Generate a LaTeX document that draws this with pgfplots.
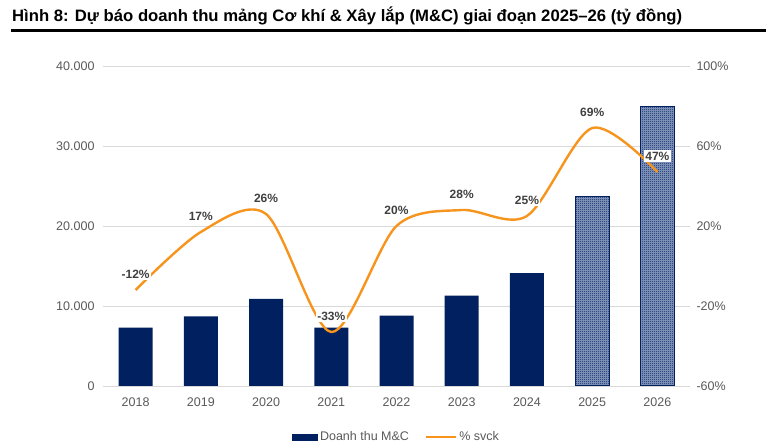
\documentclass[border=0pt]{standalone}
\usepackage{pgfplots}
\pgfplotsset{compat=1.18}
\usepackage{fontspec}
\setmainfont{Liberation Sans}
\usetikzlibrary{patterns}
\definecolor{navy}{HTML}{002060}
\definecolor{lineor}{HTML}{F7941D}
\definecolor{gridc}{HTML}{D9D9D9}
\definecolor{tickc}{HTML}{595959}
\definecolor{lblc}{HTML}{404040}
\definecolor{checkbg}{HTML}{8C9EC2}
% small checkerboard, like the Excel fill of the forecast bars
\pgfdeclarepatternformonly{smallcheck}{\pgfpointorigin}{\pgfqpoint{2pt}{2pt}}{\pgfqpoint{2pt}{2pt}}{%
  \pgfpathrectangle{\pgfpointorigin}{\pgfqpoint{1pt}{1pt}}%
  \pgfpathrectangle{\pgfqpoint{1pt}{1pt}}{\pgfqpoint{1pt}{1pt}}%
  \pgfusepath{fill}}

\pgfplotsset{
  base/.style={
    scale only axis,
    width=587pt, height=320pt,
    xmin=-0.5, xmax=8.5,
    axis line style={draw=none},
    major tick length=0pt,
    tick label style={font=\fontsize{12.5}{14}\selectfont, text=tickc},
  },
}

\begin{document}
\begin{tikzpicture}
% axis box lower left corner is the origin; page is 766 x 446 pt
\path[use as bounding box] (-103pt,-60pt) rectangle (663pt,386pt);
\node[anchor=base west, inner sep=0, font=\bfseries\fontsize{16.5}{19}\selectfont]
  at (-91pt,364pt) {\resizebox{670pt}{\height}{Hình 8: Dự báo doanh thu mảng Cơ khí \& Xây lắp (M\&C) giai đoạn 2025–26 (tỷ đồng)}};
\draw[line width=3.5pt] (-92pt,355.5pt) -- (663pt,355.5pt);

% revenue bars, left axis
\begin{axis}[base,
  ymin=0, ymax=40000,
  ytick={0,10000,20000,30000,40000},
  scaled y ticks=false,
  yticklabel style={/pgf/number format/fixed, /pgf/number format/1000 sep={.},
    /pgf/number format/assume math mode=true, xshift=-5pt},
  xtick={0,...,8},
  xticklabels={2018,2019,2020,2021,2022,2023,2024,2025,2026},
  xticklabel style={yshift=-8pt},
  ymajorgrids, grid style={gridc, line width=0.9pt},
  legend style={at={(0.5,-0.16)}, anchor=center, draw=none, fill=none,
    font=\fontsize{12.5}{14}\selectfont, text=tickc,
    /tikz/every even column/.append style={column sep=14pt}},
  legend columns=2,
]
\addplot[ybar, bar width=34pt, bar shift=0pt, fill=navy, draw=none,
  legend image code/.code={\fill[navy] (0pt,-3.5pt) rectangle (26pt,3.5pt);}]
  coordinates {(0,7300) (1,8700) (2,10900) (3,7300) (4,8800) (5,11300) (6,14100)};
\addlegendentry{Doanh thu M\&C}
\addplot[ybar, bar width=34pt, bar shift=0pt, draw=navy, line width=1pt,
  fill=checkbg, postaction={pattern=smallcheck, pattern color=navy}, forget plot]
  coordinates {(7,23700) (8,34900)};
\addlegendimage{legend image code/.code={\draw[lineor, line width=2.4pt] (0pt,0pt) -- (30pt,0pt);}}
\addlegendentry{\% svck}
\end{axis}

% growth line, right axis
\begin{axis}[base,
  ymin=-60, ymax=100,
  axis y line*=right, axis x line=none,
  ytick={-60,-20,20,60,100},
  yticklabel={\pgfmathprintnumber[assume math mode=true]{\tick}\%},
  yticklabel style={anchor=west, xshift=3pt},
]
\addplot[lineor, line width=2.4pt, smooth, tension=0.5,
  nodes near coords, point meta=explicit symbolic,
  every node near coord/.append style={anchor=center, yshift=16pt,
    font=\bfseries\fontsize{12}{14}\selectfont, text=lblc, fill=white, inner sep=1.5pt}]
  coordinates {(0,-12)[-12\%] (1,17)[17\%] (2,26)[26\%] (3,-33)[-33\%] (4,20)[20\%]
               (5,28)[28\%] (6,25)[25\%] (7,69)[69\%] (8,47)[47\%]};
\end{axis}
\end{tikzpicture}
\end{document}
